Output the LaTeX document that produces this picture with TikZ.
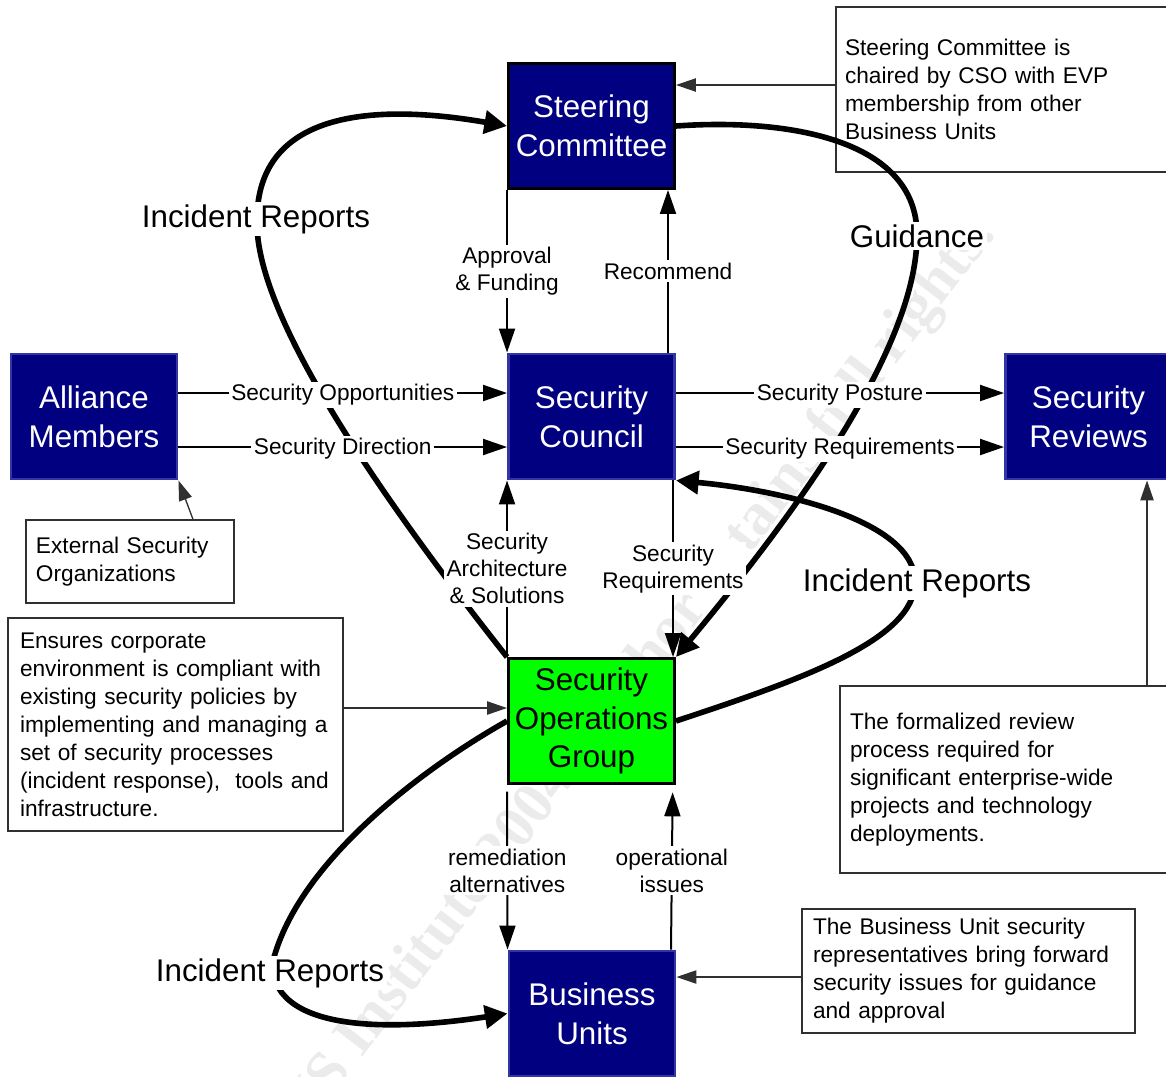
\documentclass[tikz,border=0pt]{standalone}
\usepackage{fontspec}
\setmainfont{Liberation Sans}
\newfontfamily\wmfont{Liberation Serif}
\usetikzlibrary{arrows.meta}
\definecolor{navy}{HTML}{000080}
\definecolor{navyedge}{HTML}{3434A4}
\definecolor{sgreen}{HTML}{00FF00}
\definecolor{notegray}{HTML}{303030}
\begin{document}
\begin{tikzpicture}[x=0.75pt,y=-0.75pt,
  box/.style={rectangle, fill=navy, draw=navyedge, line width=2.2pt,
    minimum width=124.5pt, minimum height=93.75pt, inner sep=0pt,
    text=white, align=center, font=\fontsize{23.5}{29}\selectfont},
  blackbox/.style={box, draw=black},
  greenbox/.style={box, draw=black, fill=sgreen, text=black},
  note/.style={rectangle, draw=notegray, line width=1pt, inner sep=0pt,
    align=left, font=\fontsize{17}{21}\selectfont},
  conn/.style={line width=1.5pt, -{Triangle[length=18pt,width=12pt]}},
  noteconn/.style={line width=1pt, draw=notegray, -{Triangle[length=15pt,width=10pt]}},
  flow/.style={line width=4.2pt, -{Triangle[length=17pt,width=17pt]}},
  lbl/.style={fill=white, inner sep=2pt, align=center, font=\fontsize{17}{20.25}\selectfont},
  biglbl/.style={fill=white, inner sep=2pt, font=\fontsize{23.5}{29}\selectfont},
  wm/.style={text=black!8, font=\wmfont\bfseries\fontsize{45}{45}\selectfont}
]
\useasboundingbox (0,0) rectangle (1166,1076);

% faint watermark
\node[wm, rotate=52.4] (wm) at (598,728) {© SANS Institute 2004, Author retains full rights.};

% notes
\node[note, minimum width=252pt, minimum height=123.75pt, text width=238.5pt] (n1) at (1004,89.5)
  {Steering Committee is\\chaired by CSO with EVP\\membership from other\\Business Units};
\node[note, minimum width=156pt, minimum height=62.25pt, text width=141pt] (n2) at (130,561.5)
  {External Security\\Organizations};
\node[note, minimum width=251.25pt, minimum height=159.75pt, text width=233.25pt] (n3) at (175.5,724.5)
  {Ensures corporate\\environment is compliant with\\existing security policies by\\implementing and managing a\\set of security processes\\(incident response),\ \ tools and\\infrastructure.};
\node[note, minimum width=249pt, minimum height=140.25pt, text width=234pt] (n4) at (1006,779.5)
  {The formalized review\\process required for\\significant enterprise-wide\\projects and technology\\deployments.};
\node[note, minimum width=249.75pt, minimum height=93pt, text width=233.25pt] (n5) at (968.5,971)
  {The Business Unit security\\representatives bring forward\\security issues for guidance\\and approval};

% main boxes
\node[blackbox] (sc) at (591.5,126) {Steering\\Committee};
\node[box] (am) at (94,416.5) {Alliance\\Members};
\node[box] (coun) at (591.5,416.5) {Security\\Council};
\node[box] (rev) at (1088.5,416.5) {Security\\Reviews};
\node[greenbox] (sog) at (591.5,721) {Security\\Operations\\Group};
\node[box] (bu) at (592,1013.5) {Business\\Units};

% thick flows
\draw[flow] (sog.north west) .. controls (395,515) and (254,320) .. (257,220)
  .. controls (257,108) and (380,104) .. (sc.west);
\node[biglbl] (ir1) at (256,219) {Incident Reports};

\draw[flow] (sc.east) .. controls (790,118) and (917,140) .. (917,235)
  .. controls (917,350) and (790,520) .. (sog.north east);
\node[biglbl] (gd) at (917,236) {Guidance};

\draw[flow] (sog.east) .. controls (800,680) and (915,640) .. (915,582)
  .. controls (915,520) and (780,490) .. (coun.south east);
\node[biglbl] (ir2) at (917,583) {Incident Reports};

\draw[flow] (sog.west) .. controls (420,770) and (295,865) .. (272,965)
  .. controls (275,1035) and (400,1030) .. (bu.west);
\node[biglbl] (ir3) at (270,973) {Incident Reports};

% note connectors
\draw[noteconn] (n1.west |- 0,85) -- (sc.east |- 0,85);
\draw[noteconn] (193,0 |- n2.north) -- (am.south east);
\draw[noteconn] (n3.east |- 0,708) -- (sog.west |- 0,708);
\draw[noteconn] (1147,0 |- n4.north) -- (1147,0 |- rev.south);
\draw[noteconn] (n5.west |- 0,977) -- (bu.east |- 0,977);

% thin connectors with labels
\draw[conn] (sc.south west) -- node[lbl] (l1) {Approval\\\& Funding} (coun.north west);
\draw[conn] (668,0 |- coun.north) -- node[lbl] (l2) {Recommend} (668,0 |- sc.south);
\draw[conn] (am.east |- 0,393) -- node[lbl, yshift=-1.5pt] (l3) {Security Opportunities} (coun.west |- 0,393);
\draw[conn] (am.east |- 0,447) -- node[lbl, yshift=-1.5pt] (l4) {Security Direction} (coun.west |- 0,447);
\draw[conn] (coun.east |- 0,393) -- node[lbl, yshift=-1.5pt] (l5) {Security Posture} (rev.west |- 0,393);
\draw[conn] (coun.east |- 0,447) -- node[lbl, yshift=-1.5pt] (l6) {Security Requirements} (rev.west |- 0,447);
\draw[conn] (sog.north west) -- node[lbl] (l7) {Security\\Architecture\\\& Solutions} (coun.south west);
\draw[conn] (673,0 |- coun.south) -- node[lbl] (l8) {Security\\Requirements} (673,0 |- sog.north);
\draw[conn] ([yshift=-5pt]sog.south west) -- node[lbl] (l9) {remediation\\alternatives} (bu.north west);
\draw[conn] (671,0 |- bu.north) -- node[lbl] (l10) {operational\\issues} ([xshift=-2.5pt,yshift=-5.5pt]sog.south east);
\end{tikzpicture}
\end{document}
